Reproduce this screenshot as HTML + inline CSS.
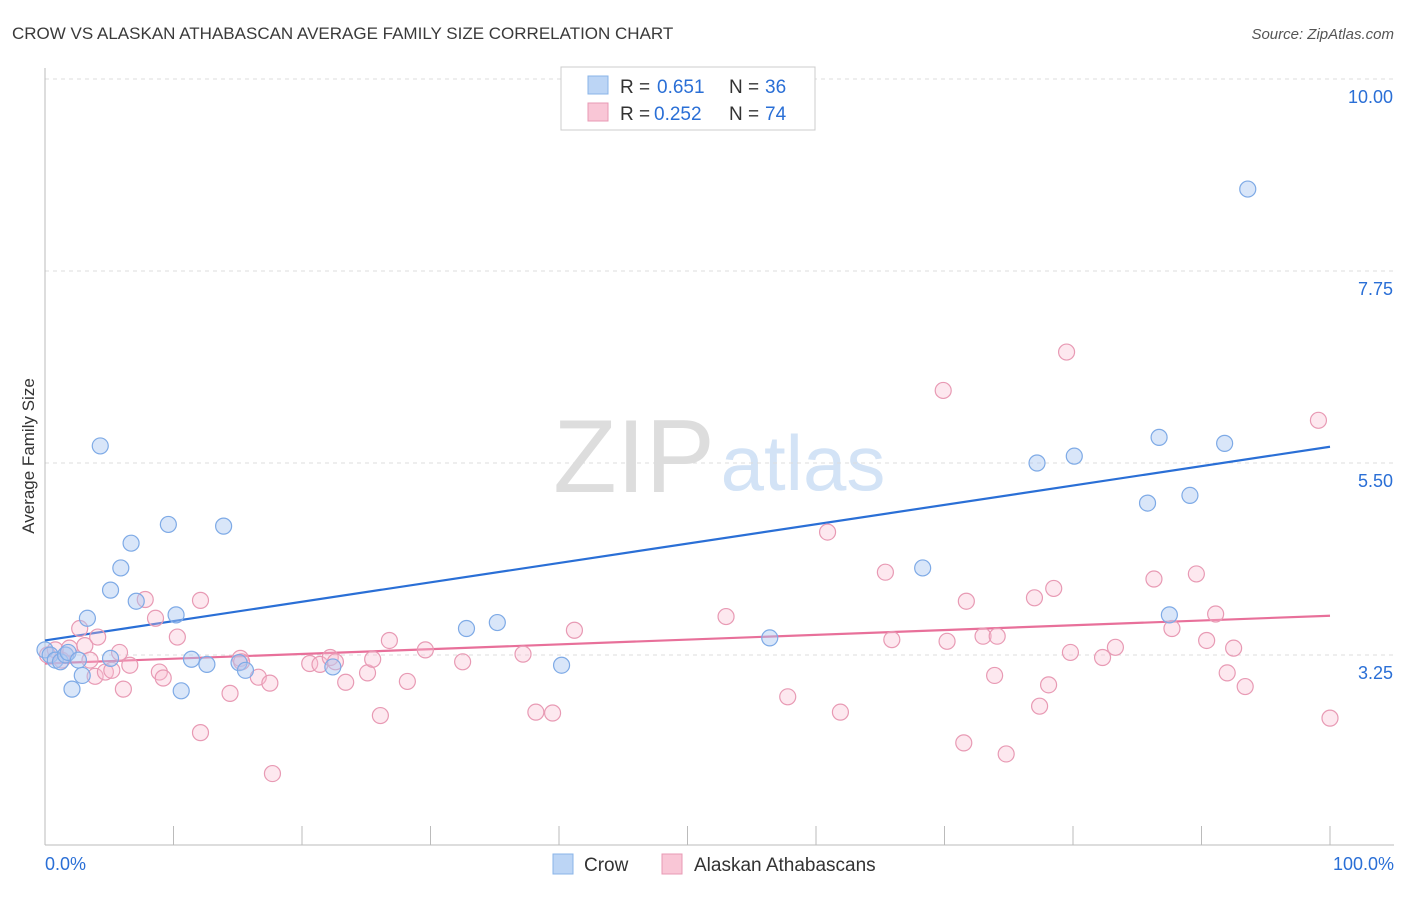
<!DOCTYPE html>
<html><head><meta charset="utf-8"><style>
body{margin:0;background:#fff;font-family:"Liberation Sans",sans-serif}
svg text{font-family:"Liberation Sans",sans-serif}
</style></head><body>
<svg id="chart" width="1406" height="892">
<text x="12" y="39" font-size="17" fill="#3a3a3a">CROW VS ALASKAN ATHABASCAN AVERAGE FAMILY SIZE CORRELATION CHART</text>
<text x="1394" y="39" font-size="15" fill="#555" font-style="italic" text-anchor="end">Source: ZipAtlas.com</text>
<text transform="translate(34,456) rotate(-90)" font-size="17" fill="#333" text-anchor="middle">Average Family Size</text>
<g><text x="634" y="492" font-size="104" fill="#ddd" font-family="Liberation Serif,serif" text-anchor="middle">ZIP</text><text x="803" y="490" font-size="78" fill="#d3e3f6" text-anchor="middle">atlas</text></g>
<g id="grid"></g><g id="axes"></g><g id="lines"></g><g id="pts"></g>
<g>
<rect x="561" y="67" width="254" height="63" fill="#fff" stroke="#ccc"/>
<rect x="588" y="76" width="20" height="18" fill="#bcd5f5" stroke="#8ab4e8"/>
<rect x="588" y="103" width="20" height="18" fill="#f9c6d6" stroke="#e89ab4"/>
<text y="93" font-size="19" fill="#333"><tspan x="620">R =</tspan><tspan x="657" fill="#2a6fd6">0.651</tspan><tspan x="729">N =</tspan><tspan x="765" fill="#2a6fd6">36</tspan></text>
<text y="120" font-size="19" fill="#333"><tspan x="620">R =</tspan><tspan x="654" fill="#2a6fd6">0.252</tspan><tspan x="729">N =</tspan><tspan x="765" fill="#2a6fd6">74</tspan></text>
</g>
<g>
<rect x="553" y="854" width="20" height="20" fill="#bcd5f5" stroke="#8ab4e8"/>
<text x="584" y="871" font-size="19" fill="#333">Crow</text>
<rect x="662" y="854" width="20" height="20" fill="#f9c6d6" stroke="#e89ab4"/>
<text x="694" y="871" font-size="19" fill="#333">Alaskan Athabascans</text>
</g>
<text x="45" y="870" font-size="18" fill="#2a6fd6">0.0%</text>
<text x="1394" y="870" font-size="18" fill="#2a6fd6" text-anchor="end">100.0%</text>
</svg>
<script>
const yTicks=[10.00,7.75,5.50,3.25];
const crowX=[0,0.4,0.8,1.2,1.6,1.8,2.1,2.6,2.9,3.3,4.3,5.1,5.1,5.9,6.7,7.1,9.6,10.2,10.6,11.4,12.6,13.9,15.1,15.6,22.4,32.8,35.2,40.2,56.4,68.3,77.2,80.1,85.8,86.7,87.5,89.1,91.8,93.6];
const crowY=[3.31,3.25,3.19,3.17,3.25,3.28,2.85,3.19,3.01,3.68,5.70,4.01,3.21,4.27,4.56,3.88,4.78,3.72,2.83,3.20,3.14,4.76,3.16,3.07,3.11,3.56,3.63,3.13,3.45,4.27,5.50,5.58,5.03,5.80,3.72,5.12,5.73,8.71];
const athX=[0.2,0.8,1.3,1.9,2.7,3.1,3.5,3.9,4.1,4.7,5.2,5.8,6.1,6.6,7.8,8.6,8.9,9.2,10.3,12.1,12.1,14.4,15.2,15.3,16.6,17.5,17.7,20.6,21.4,22.2,22.6,23.4,25.1,25.5,26.1,26.8,28.2,29.6,32.5,37.2,38.2,39.5,41.2,53.0,57.8,60.9,61.9,65.4,65.9,69.9,70.2,71.5,71.7,73.0,73.9,74.1,74.8,77.0,77.4,78.1,78.5,79.5,79.8,82.3,83.3,86.3,87.7,89.6,90.4,91.1,92.0,92.5,93.4,99.1,100];
const athY=[3.25,3.31,3.19,3.33,3.56,3.36,3.19,3.00,3.46,3.05,3.07,3.28,2.85,3.13,3.90,3.68,3.05,2.98,3.46,3.89,2.34,2.80,3.21,3.17,2.99,2.92,1.86,3.15,3.14,3.22,3.17,2.93,3.04,3.20,2.54,3.42,2.94,3.31,3.17,3.26,2.58,2.57,3.54,3.70,2.76,4.69,2.58,4.22,3.43,6.35,3.41,2.22,3.88,3.47,3.01,3.47,2.09,3.92,2.65,2.90,4.03,6.80,3.28,3.22,3.34,4.14,3.56,4.20,3.42,3.73,3.04,3.33,2.88,6.00,2.51];
const crowTrend=[3.42,5.69];
const athTrend=[3.15,3.71];
const NS="http://www.w3.org/2000/svg";
const xs=v=>45+v*12.85, ys=v=>79+(10-v)*85.33;
function mk(p,t,a){const e=document.createElementNS(NS,t);for(const k in a)e.setAttribute(k,a[k]);document.getElementById(p).appendChild(e);return e;}
yTicks.forEach((t,i)=>{const g=mk('grid','line',{x1:45,x2:1394,y1:ys(t),y2:ys(t),stroke:'#ddd','stroke-dasharray':'4,4'});


const l=mk('grid','text',{x:1393,y:ys(t)+24,'font-size':18,fill:'#2a6fd6','text-anchor':'end'});l.textContent=t.toFixed(2);

});
const ax=mk('axes','line',{x1:45,x2:45,y1:68,y2:845,stroke:'#bbb'});


const bx=mk('axes','line',{x1:45,x2:1394,y1:845,y2:845,stroke:'#bbb'});


for(let i=0;i<=10;i++){const t=mk('axes','line',{x1:xs(i*10),x2:xs(i*10),y1:826,y2:845,stroke:'#bbb'});

}
function pts(X,Y,f,s,n){X.forEach((x,i)=>{const c=mk('pts','circle',{cx:xs(x),cy:ys(Y[i]),r:8,fill:f,stroke:s,'stroke-width':1.2});

});}
pts(athX,athY,'rgba(248,190,210,0.35)','#e89ab4','athabascan-point');
pts(crowX,crowY,'rgba(170,200,242,0.45)','#7eaae6','crow-point');
const l1=mk('lines','line',{x1:xs(0),x2:xs(100),y1:ys(crowTrend[0]),y2:ys(crowTrend[1]),stroke:'#2a6fd6','stroke-width':2.2});


const l2=mk('lines','line',{x1:xs(0),x2:xs(100),y1:ys(athTrend[0]),y2:ys(athTrend[1]),stroke:'#e8709a','stroke-width':2.2});


</script>
</body></html>
